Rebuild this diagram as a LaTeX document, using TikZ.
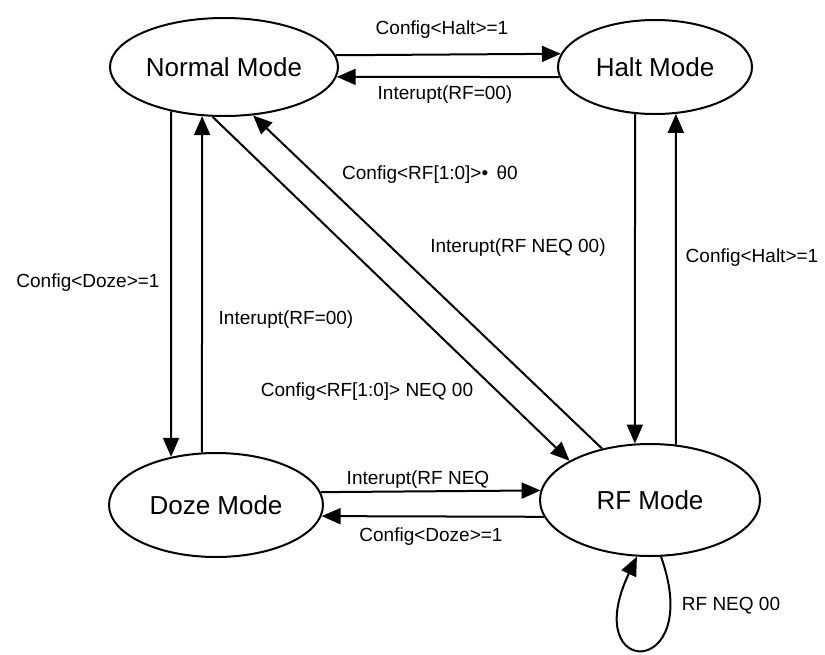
\documentclass[tikz,border=0pt]{standalone}
\usepackage{fontspec}
\setmainfont{Liberation Sans}
\usetikzlibrary{arrows.meta,shapes.geometric}
\tikzset{
  % oval state with an outline only
  mode/.style = {ellipse, draw, line width=2pt, inner sep=0pt,
                 font=\fontsize{26}{30}\selectfont},
  arr/.style  = {-{Triangle[length=19pt,width=16pt]}, line width=2pt},
  lbl/.style  = {font=\fontsize{19}{22}\selectfont, inner sep=0pt},
}

\begin{document}
\begin{tikzpicture}[x=1pt,y=-1pt]
\useasboundingbox (0,0) rectangle (825,654);
% states
\node[mode, minimum width=228pt, minimum height=98pt]  (normal) at (224,67)  {Normal Mode};
\node[mode, minimum width=194pt, minimum height=94pt]  (halt)   at (655,67)  {Halt Mode};
\node[mode, minimum width=214pt, minimum height=104pt] (doze)   at (216,505) {Doze Mode};
\node[mode, minimum width=220pt, minimum height=112pt] (rf)     at (650,500) {RF Mode};
% normal <-> halt
\draw[arr] (normal.6.75) -- (halt.172.06);
\draw[arr] (halt.186.65) -- (normal.-5.65);
\node[lbl] (lHaltA) at (442,30) {Config<Halt>=1};
\node[lbl] (lRfA)   at (445,95) {Interupt(RF=00)};
% normal <-> doze
\draw[arr] (normal.-140.7) -- (doze.133.6);
\draw[arr] (doze.105.2) -- (normal.-114.6);
\node[lbl] (lDozeA) at (88,283)  {Config<Doze>=1};
\node[lbl] (lRfB)   at (286,320) {Interupt(RF=00)};
% halt <-> rf
\draw[arr] (halt.-113.5) -- (rf.105.1);
\draw[arr] (rf.65.4) -- (halt.-66.5);
\node[lbl] (lNeqA)  at (518,248) {Interupt(RF NEQ 00)};
\node[lbl] (lHaltB) at (752,258) {Config<Halt>=1};
% normal <-> rf
\draw[arr] (normal.-103.8) -- (rf.154.4);
\draw[arr] (rf.133.6) -- (normal.-59.5);
\node[lbl] (lCfgA) at (430,175) {Config<RF[1:0]>• \,θ0};
\node[lbl] (lCfgB) at (367,392) {Config<RF[1:0]> NEQ 00};
% doze <-> rf
\draw[arr] (doze.7.15) -- (rf.175.8);
\draw[arr] (rf.189.2) -- (doze.-6.58);
\node[lbl] (lNeqB)  at (418,480) {Interupt(RF NEQ};
\node[lbl] (lDozeB) at (431,537) {Config<Doze>=1};
% self loop
\draw[arr] (rf.-79.8) .. controls (705,680) and (578,680) .. (rf.-103.2);
\node[lbl] (lLoop) at (731,606) {RF NEQ 00};
\end{tikzpicture}
\end{document}
